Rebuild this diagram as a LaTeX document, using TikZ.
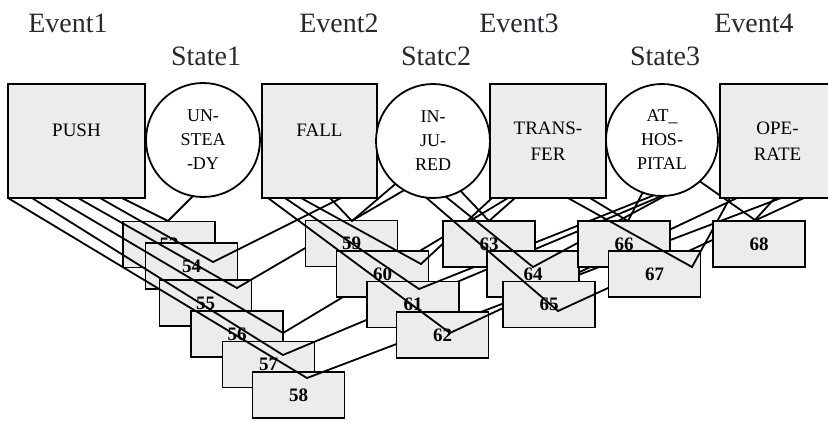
\documentclass[tikz,border=0pt]{standalone}
\usepackage{fontspec}
\setmainfont{Liberation Serif}
\definecolor{boxfill}{RGB}{236,236,239}
\definecolor{headcol}{RGB}{40,40,48}
\begin{document}
\begin{tikzpicture}[x=1pt,y=-1pt,
  ln/.style={line width=1.8pt, line join=miter},
  nb/.style={draw, line width=1.9pt, fill=boxfill, minimum width=92pt, minimum height=46pt,
    inner sep=0pt, font=\fontsize{19}{19}\selectfont\bfseries},
  tbox/.style={draw, line width=1.9pt, fill=boxfill, minimum height=114pt, inner sep=0pt,
    align=center, font=\fontsize{19}{26}\selectfont},
  ttext/.style={inner sep=0pt, font=\fontsize{19}{19}\selectfont},
  tcirc/.style={draw, circle, line width=1.8pt, fill=white, minimum size=114pt, inner sep=0pt,
    align=center, font=\fontsize{18}{24}\selectfont},
  hd/.style={anchor=base, inner sep=0pt, text=headcol, font=\fontsize{28}{28}\selectfont}
]
\clip (0,0) rectangle (828,421);
\fill[white] (0,0) rectangle (828,421);

% connector end points (a = upper-left end, v = apex, b = upper-right end)
\coordinate (a53) at (122,198); \coordinate (v53) at (168,221); \coordinate (b53) at (200,189);
\coordinate (a54) at (100,198); \coordinate (v54) at (213,262); \coordinate (b54) at (341,198);
\coordinate (a55) at (78,198);  \coordinate (v55) at (237,288); \coordinate (b55) at (413,185);
\coordinate (a56) at (55,198);  \coordinate (v56) at (283,333); \coordinate (b56) at (508,198);
\coordinate (a57) at (32,198);  \coordinate (v57) at (283,355); \coordinate (b57) at (676,190);
\coordinate (a58) at (8,198);   \coordinate (v58) at (307,378); \coordinate (b58) at (781,198);
\coordinate (a59) at (330,198); \coordinate (v59) at (352,221); \coordinate (b59) at (400,180);
\coordinate (a60) at (301,198); \coordinate (v60) at (421,264); \coordinate (b60) at (492,198);
\coordinate (a61) at (285,198); \coordinate (v61) at (419,289); \coordinate (b61) at (667,190);
\coordinate (a62) at (268,198); \coordinate (v62) at (450,333); \coordinate (b62) at (737,198);
\coordinate (a63) at (455,185); \coordinate (v63) at (489,221); \coordinate (b63) at (515,198);
\coordinate (a64) at (440,192); \coordinate (v64) at (533,267); \coordinate (b64) at (685,185);
\coordinate (a65) at (415,188); \coordinate (v65) at (558,311); \coordinate (b65) at (804,198);
\coordinate (a66) at (590,198); \coordinate (v66) at (628,221); \coordinate (b66) at (645,188);
\coordinate (a67) at (568,198); \coordinate (v67) at (692,267); \coordinate (b67) at (730,198);
\coordinate (a68) at (695,178); \coordinate (v68) at (755,220); \coordinate (b68) at (775,198);

% numbered boxes, each followed by its connectors
\node[nb] (n53) at (169,244.5) {53}; \draw[ln] (a53) -- (v53) -- (b53);
\node[nb] (n54) at (191.5,266)  {54}; \draw[ln] (a54) -- (v54) -- (b54);
\node[nb] (n55) at (205.5,303)  {55}; \draw[ln] (a55) -- (v55) -- (b55);
\node[nb] (n56) at (237,334)    {56}; \draw[ln] (a56) -- (v56) -- (b56);
\node[nb] (n57) at (268.5,364.5){57}; \draw[ln] (a57) -- (v57) -- (b57);
\node[nb] (n58) at (298.5,395)  {58}; \draw[ln] (a58) -- (v58) -- (b58);
\node[nb] (n59) at (351.5,243.5){59}; \draw[ln] (a59) -- (v59) -- (b59);
\node[nb] (n60) at (382.5,274)  {60}; \draw[ln] (a60) -- (v60) -- (b60);
\node[nb] (n61) at (413,304.5)  {61}; \draw[ln] (a61) -- (v61) -- (b61);
\node[nb] (n62) at (442.5,335)  {62}; \draw[ln] (a62) -- (v62) -- (b62);
\node[nb] (n63) at (489,244)    {63}; \draw[ln] (a63) -- (v63) -- (b63);
\node[nb] (n64) at (533,274)    {64}; \draw[ln] (a64) -- (v64) -- (b64);
\node[nb] (n65) at (549,304.5)  {65}; \draw[ln] (a65) -- (v65) -- (b65);
\node[nb] (n66) at (624,244)    {66}; \draw[ln] (a66) -- (v66) -- (b66);
\node[nb] (n67) at (654.5,274)  {67}; \draw[ln] (a67) -- (v67) -- (b67);
\node[nb] (n68) at (759,244)    {68}; \draw[ln] (a68) -- (v68) -- (b68);

% top row: events (boxes) and states (circles)
\node[tbox, minimum width=137pt] (push) at (76.5,141) {};
\node[ttext] (pusht) at (76.5,130) {PUSH};
\node[tcirc] (unsteady) at (203,140) {UN-\\STEA\\-DY};
\node[tbox, minimum width=115pt] (fall) at (319.5,141) {};
\node[ttext] (fallt) at (319.5,130) {FALL};
\node[tcirc] (injured) at (433,141) {IN-\\JU-\\RED};
\node[tbox, minimum width=116pt] (transfer) at (548,141) {TRANS-\\FER};
\node[tcirc, minimum size=112pt] (athosp) at (662,140) {AT\_\\HOS-\\PITAL};
\node[tbox, minimum width=115pt] (operate) at (777.5,141) {OPE-\\RATE};

% headings
\node[hd] (ev1) at (68,32)  {Event1};
\node[hd] (st1) at (206,65) {State1};
\node[hd] (ev2) at (339,32) {Event2};
\node[hd] (st2) at (436,65) {Statc2};
\node[hd] (ev3) at (519,32) {Event3};
\node[hd] (st3) at (665,65) {State3};
\node[hd] (ev4) at (754,32) {Event4};
\end{tikzpicture}
\end{document}
